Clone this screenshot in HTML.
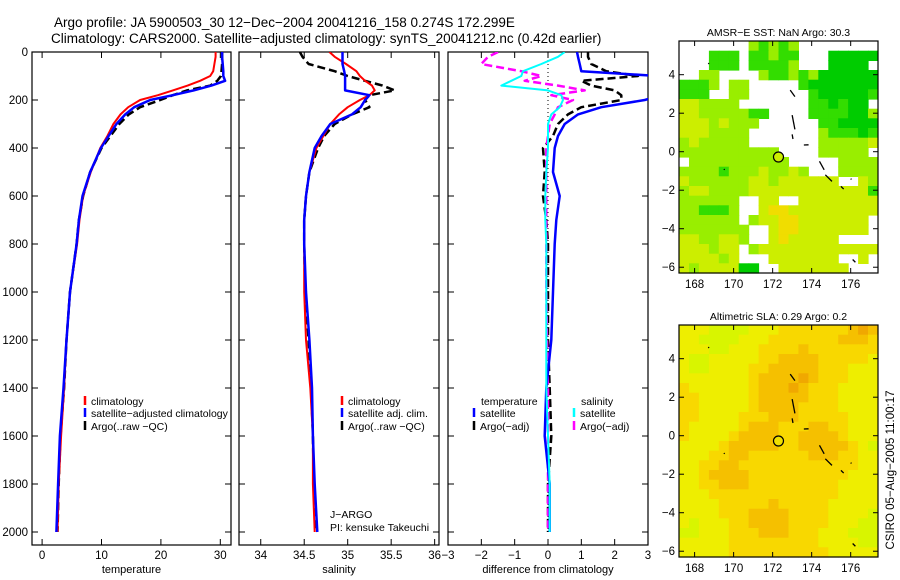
<!DOCTYPE html>
<html><head><meta charset="utf-8">
<style>
html,body{margin:0;padding:0;background:#fff;}
svg{display:block;font-family:"Liberation Sans",sans-serif;}
text{font-size:11.5px;fill:#000;}
</style></head>
<body>
<svg id="fig" width="900" height="580" viewBox="0 0 900 580" xmlns="http://www.w3.org/2000/svg">
<defs>
<clipPath id="c1"><rect x="32" y="52" width="199" height="493"/></clipPath>
<clipPath id="c2"><rect x="239" y="52" width="200" height="493"/></clipPath>
<clipPath id="c3"><rect x="448" y="52" width="200" height="493"/></clipPath>
</defs>
<text x="54" y="27" style="font-size:13.5px">Argo profile: JA 5900503_30 12−Dec−2004 20041216_158 0.274S 172.299E</text>
<text x="51" y="43" style="font-size:13.5px">Climatology: CARS2000. Satellite−adjusted climatology: synTS_20041212.nc (0.42d earlier)</text>
<g id="panels"></g>
<g id="maps"></g>
<text transform="translate(894,470) rotate(-90)" text-anchor="middle">CSIRO 05−Aug−2005 11:00:17</text>
</svg>
<script>
// ---------- profile data ----------
const depth = [0,20,50,80,100,120,140,160,180,200,230,260,300,350,400,500,600,700,800,1000,1200,1400,1600,1800,2000];
const tempClim = [29.2,29.2,29.0,28.8,28.3,26.6,24.5,22.0,19.5,16.5,14.5,13.2,12.0,11.0,9.8,8.2,6.9,6.3,5.9,4.7,4.1,3.7,3.2,2.8,2.6];
const tempSat  = [30.3,30.3,30.4,30.5,30.5,30.8,28.5,25.5,22.0,18.2,15.5,14.0,12.5,11.2,9.9,8.1,6.8,6.2,5.8,4.7,4.1,3.6,3.0,2.7,2.4];
const tempArgo = [30.3,30.3,30.3,30.2,30.1,29.5,28.3,24.4,22.0,19.9,16.5,14.6,13.0,11.5,10.0,8.1,6.9,6.2,5.8,4.7,4.1,3.7,3.1,2.8,2.6];
const salClim  = [34.79,34.85,34.98,35.10,35.14,35.20,35.28,35.31,35.25,35.14,35.00,34.90,34.80,34.72,34.64,34.56,34.52,34.50,34.50,34.50,34.52,34.57,34.60,34.60,34.62];
const salSat   = [34.94,34.94,34.94,34.96,34.97,34.97,34.97,34.97,35.25,35.20,35.15,35.05,34.80,34.70,34.62,34.56,34.52,34.50,34.50,34.52,34.56,34.59,34.60,34.62,34.65];
const salArgo  = [34.45,34.48,34.55,34.85,35.00,35.20,35.40,35.54,35.25,35.20,35.25,35.05,34.85,34.73,34.66,34.56,34.52,34.50,34.50,34.51,34.55,34.58,34.60,34.61,34.63];
const dTempSat  = [0.87,0.9,0.95,1.0,3.3,3.5,3.5,3.5,3.4,2.9,1.6,0.9,0.5,0.3,0.2,0.15,0.35,0.25,0.2,0.15,0.1,-0.05,-0.1,0.05,0.05];
const dTempArgo = [1.2,1.2,1.3,1.75,2.7,1.0,1.3,2.0,2.2,2.2,1.0,0.6,0.3,0.15,-0.15,-0.1,-0.15,-0.05,0,0,0,0.05,0.1,0,0];
const dSalSat   = [0.5,0.3,-0.2,-0.75,-0.8,-1.1,-1.4,0.0,0.4,0.45,0.35,0.1,0.0,0.0,0.0,-0.05,-0.08,-0.08,-0.05,-0.05,-0.05,-0.05,0,0.05,0.05];
const dSalArgo  = [-1.5,-1.8,-2.0,-0.8,-0.2,-0.7,0.3,1.1,0.1,0.75,0.3,0.2,0.05,0,-0.05,-0.05,-0.05,-0.05,-0.05,-0.05,-0.03,0,0,0,0];
const depthTicks = [0,200,400,600,800,1000,1200,1400,1600,1800,2000];
const tempTicks = [0,10,20,30];
const salTicks = [34,34.5,35,35.5,36];
const salTickLabels = ["34","34.5","35","35.5","36"];
const diffTicks = [-3,-2,-1,0,1,2,3];
// ---------- map data ----------
const sstRows = [
".......lGlGl........",
"...GGG.GGlGG...ggggg",
"...GGG.GGGGl...gggg.",
"..ll....lGGlGlgggggg",
"GGGl.ll.....Gggggggg",
"GGG..ll......GgggggG",
"yyllll.......GGgGgg.",
"yylllllGG....GGGGggl",
"yyylylll......GGgggg",
"yyyllll.......lGGGgG",
"lylllll.......llllly",
"llllllllll....lllll.",
".llllllllll.....llll",
"llllGlllyllyl...llll",
"yllllllyylyyyyyy..yl",
"lyyllllyyyyyyyyyyyyG",
"llllll..yy..yyyyyyyy",
"llGGGl..yooyyyyyyyyy",
"llllll.lyyooyyyyyyy.",
"lllllll..yooyyyyyyy.",
"yyllyyl..yoyyyyy....",
"yyylyy.lyyyyyyyyyyyy",
"yyyyly...yyyyyyy..y.",
"ylyyyygg..yyyyyyy..."];
const slaRows = [
"11100001112222222343",
"11000011122222223332",
"11100111222232222222",
"10011111223333222221",
"10011112233333222111",
"11111112333343222111",
"21111112333432221111",
"22111112333332221111",
"22111112333322221111",
"22111122233322222111",
"21111123332223322111",
"21111233332233332111",
"11112333332233333210",
"11122332222223332211",
"11223322222222222211",
"11233332222222222111",
"11223332222222221111",
"11122222222222221111",
"11112222232222211111",
"11112223333222211110",
"10111223333222211100",
"00111222333222111000",
"11111222222222111100",
"11111222222222211111"];
const lonTicks = [168,170,172,174,176];
const latTicks = [4,2,0,-2,-4,-6];
const argoLon = 172.299, argoLat = -0.274;

const NS = "http://www.w3.org/2000/svg";
function mk(tag, attrs, parent, txt){
  const e = document.createElementNS(NS, tag);
  for (const k in attrs) e.setAttribute(k, attrs[k]);
  if (txt !== undefined) e.textContent = txt;
  parent.appendChild(e);
  return e;
}
const P = document.getElementById('panels');
const top0 = 52, bot = 545;
const yD = d => top0 + d * 0.24;

function panel(name, x0, x1, vmin, vmax, ticks, labels, xlabel, clip, showY){
  const g = mk('g', {}, P);
  
  
  const xs = v => x0 + (v - vmin) / (vmax - vmin) * (x1 - x0);
  const box = mk('rect', {x:x0, y:top0, width:x1-x0, height:bot-top0, fill:'none', stroke:'#000', 'stroke-width':1.2}, g);
  
  
  ticks.forEach((t,i) => {
    const x = xs(t);
    mk('line', {x1:x, x2:x, y1:top0, y2:top0+6, stroke:'#000'}, g);
    mk('line', {x1:x, x2:x, y1:bot, y2:bot-6, stroke:'#000'}, g);
    const tl = mk('text', {x:x, y:559, 'text-anchor':'middle'}, g, labels[i]);
    
    
  });
  depthTicks.forEach(d => {
    const y = yD(d);
    mk('line', {x1:x0, x2:x0+6, y1:y, y2:y, stroke:'#000'}, g);
    mk('line', {x1:x1, x2:x1-6, y1:y, y2:y, stroke:'#000'}, g);
    if (showY) {
      const yl = mk('text', {x:28, y:y+4, 'text-anchor':'end'}, g, String(d));
      
      
    }
  });
  const xl = mk('text', {x:(x0+x1)/2, y:573, 'text-anchor':'middle', style:'font-size:11px'}, g, xlabel);
  
  
  const lines = mk('g', {'clip-path':'url(#'+clip+')'}, g);
  return {xs, lines, g};
}
function series(p, vals, color, w, dash, name){
  const pts = vals.map((v,i) => p.xs(v).toFixed(1) + ',' + yD(depth[i]).toFixed(1)).join(' ');
  const a = {points:pts, fill:'none', stroke:color, 'stroke-width':w, 'stroke-linejoin':'round'};
  if (dash) a['stroke-dasharray'] = dash;
  const pl = mk('polyline', a, p.lines);
  
  
}
function legend(g, x, y, color, label){
  const r = mk('line', {x1:x, x2:x, y1:y-6, y2:y+3, stroke:color, 'stroke-width':2.5}, g);
  
  
  if (label) {
    const t = mk('text', {x:x+6, y:y+3, style:'font-size:10.5px'}, g, label);
    
    
  }
}

const p1 = panel('temperature-panel', 32, 231, -1.7, 31.8, tempTicks, tempTicks.map(String), 'temperature', 'c1', true);
series(p1, tempArgo, '#000', 2.5, '8,4', 'temp-argo-line');
series(p1, tempClim, '#f00', 2, null, 'temp-climatology-line');
series(p1, tempSat, '#00f', 2.5, null, 'temp-satellite-line');
legend(p1.g, 85, 402, '#f00', 'climatology');
legend(p1.g, 85, 414, '#00f', 'satellite−adjusted climatology');
legend(p1.g, 85, 427, '#000', 'Argo(..raw −QC)');

const p2 = panel('salinity-panel', 239, 439, 33.75, 36.05, salTicks, salTickLabels, 'salinity', 'c2', false);
series(p2, salArgo, '#000', 2.5, '8,4', 'sal-argo-line');
series(p2, salClim, '#f00', 2, null, 'sal-climatology-line');
series(p2, salSat, '#00f', 2.5, null, 'sal-satellite-line');
legend(p2.g, 342, 402, '#f00', 'climatology');
legend(p2.g, 342, 414, '#00f', 'satellite adj. clim.');
legend(p2.g, 342, 427, '#000', 'Argo(..raw −QC)');
let t = mk('text', {x:330, y:518, style:'font-size:10.5px'}, p2.g, 'J−ARGO');


t = mk('text', {x:330, y:531, style:'font-size:10.5px'}, p2.g, 'PI: kensuke Takeuchi');



const p3 = panel('difference-panel', 448, 648, -3, 3, diffTicks, diffTicks.map(v => v < 0 ? '−' + (-v) : String(v)), 'difference from climatology', 'c3', false);
mk('line', {x1:p3.xs(0), x2:p3.xs(0), y1:yD(0), y2:yD(2000), stroke:'#000', 'stroke-dasharray':'1,3'}, p3.lines);
series(p3, dTempArgo, '#000', 2.5, '8,4', 'diff-temp-argo-line');
series(p3, dSalArgo, '#f0f', 2.5, '8,4', 'diff-sal-argo-line');
series(p3, dTempSat, '#00f', 2.5, null, 'diff-temp-satellite-line');
series(p3, dSalSat, '#0ff', 2, null, 'diff-sal-satellite-line');
t = mk('text', {x:481, y:405, style:'font-size:10.5px'}, p3.g, 'temperature');


legend(p3.g, 474, 414, '#00f', 'satellite');
legend(p3.g, 474, 427, '#000', 'Argo(−adj)');
t = mk('text', {x:581, y:405, style:'font-size:10.5px'}, p3.g, 'salinity');


legend(p3.g, 574, 414, '#0ff', 'satellite');
legend(p3.g, 574, 427, '#f0f', 'Argo(−adj)');

// ---------- maps ----------
const M = document.getElementById('maps');
const sstColors = {'g':'#00cc00','G':'#33dd00','l':'#99ee00','y':'#ccee00','o':'#f0dd00'};
const slaColors = ['#d8f500','#eeee00','#f8d800','#f5c000','#f0a800'];
function drawMap(name, y0, y1, title, rows, colorOf, dotColor){
  const x0 = 679, x1 = 878;
  const g = mk('g', {}, M);
  
  
  const lonMin = 167.2, lonMax = 177.4, latMax = 5.75, latMin = -6.3;
  const lx = v => x0 + (v - lonMin) / (lonMax - lonMin) * (x1 - x0);
  const ly = v => y0 + (latMax - v) / (latMax - latMin) * (y1 - y0);
  const nr = rows.length, nc = 20;
  const cw = (x1 - x0) / nc, ch = (y1 - y0) / nr;
  rows.forEach((row, r) => {
    for (let c = 0; c < nc; c++) {
      const col = colorOf(row[c]);
      if (!col) continue;
      mk('rect', {x:(x0 + c*cw).toFixed(1), y:(y0 + r*ch).toFixed(1), width:(cw+0.6).toFixed(1), height:(ch+0.6).toFixed(1), fill:col}, g);
    }
  });
  const isl = [[172.9,3.2,173.1,2.9],[173.0,1.9,173.1,1.2],[173.0,0.9,173.0,0.7],[173.6,0.35,173.8,0.4],[174.4,-0.5,174.6,-0.9],[174.7,-1.2,175.0,-1.5],[175.5,-1.8,175.6,-1.9],[168.7,4.6,168.7,4.6],[169.5,-0.9,169.5,-0.9],[176.0,-1.4,176.0,-1.4],[176.1,-5.6,176.2,-5.7]];
  isl.forEach(s => mk('line', {x1:lx(s[0]), y1:ly(s[1]), x2:lx(s[2])+0.8, y2:ly(s[3])+0.8, stroke:'#000', 'stroke-width':1.3}, g));
  mk('rect', {x:x0, y:y0, width:x1-x0, height:y1-y0, fill:'none', stroke:'#000', 'stroke-width':1.2}, g);
  lonTicks.forEach(v => {
    const x = lx(v);
    mk('line', {x1:x, x2:x, y1:y0, y2:y0+5, stroke:'#000'}, g);
    mk('line', {x1:x, x2:x, y1:y1, y2:y1-5, stroke:'#000'}, g);
    const tl = mk('text', {x:x, y:y1+15, 'text-anchor':'middle'}, g, String(v));
    
    
  });
  latTicks.forEach(v => {
    const y = ly(v);
    mk('line', {x1:x0, x2:x0+5, y1:y, y2:y, stroke:'#000'}, g);
    mk('line', {x1:x1, x2:x1-5, y1:y, y2:y, stroke:'#000'}, g);
    const tl = mk('text', {x:675, y:y+4, 'text-anchor':'end'}, g, v < 0 ? '−' + (-v) : String(v));
    
    
  });
  const tt = mk('text', {x:(x0+x1)/2, y:y0-5, 'text-anchor':'middle', style:'font-size:10.5px'}, g, title);
  
  
  const dot = mk('circle', {cx:lx(argoLon), cy:ly(argoLat), r:5, fill:dotColor, stroke:'#000', 'stroke-width':1.2}, g);
  
  
}
drawMap('sst-map', 41, 273, 'AMSR−E SST: NaN Argo: 30.3', sstRows, ch => sstColors[ch] || null, '#ccee00');
drawMap('sla-map', 325, 557, 'Altimetric SLA: 0.29 Argo: 0.2', slaRows, ch => slaColors[+ch], '#f0e000');
</script>
</body></html>
